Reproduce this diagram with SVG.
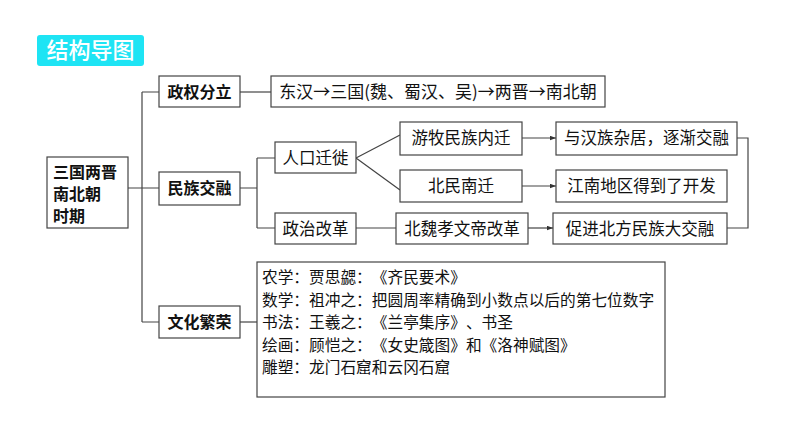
<svg xmlns="http://www.w3.org/2000/svg" width="794" height="448" viewBox="0 0 794 448">
<defs>
<marker id="ah" viewBox="0 0 8 6" refX="8" refY="3" markerWidth="6" markerHeight="5" orient="auto" markerUnits="userSpaceOnUse">
<path d="M0,0 L8,3 L0,6 z" fill="#333"/>
</marker>
<style>
text{text-spacing-trim:space-all}
.box{fill:#fff;stroke:#444;stroke-width:1.2}
.ln{fill:none;stroke:#444;stroke-width:1.2}
.hb{font-family:"Noto Sans CJK SC","Liberation Sans",sans-serif;font-weight:bold;font-size:16px;fill:#111}
.sr{font-family:"Noto Sans CJK SC","Liberation Serif",sans-serif;font-size:16.5px;fill:#111}
.ar{font-family:"Noto Sans CJK SC","Liberation Serif",sans-serif;font-size:17px;fill:#111}
.tx{font-family:"Noto Sans CJK SC","Liberation Serif",sans-serif;font-size:15.7px;fill:#111}
</style>
</defs>
<rect width="794" height="448" fill="#fff"/>
<g id="title">
<rect x="37" y="35" width="107" height="31" rx="3" fill="#1EE4F4"/>
<text x="90.5" y="58" text-anchor="middle" font-family="'Noto Sans CJK SC',sans-serif" font-size="22" font-weight="500" fill="#fff">结构导图</text>
</g>
<g id="connectors">
<path class="ln" d="M128,188 H142 M142,92 V322 M142,92 H159 M142,188 H159 M142,322 H159"/>
<path class="ln" d="M240,92 H271"/>
<path class="ln" d="M240,188 H257 M257,158 V228 M257,158 H275 M257,228 H275"/>
<path class="ln" d="M356,158 L400,135 M356,158 L400,190"/>
<path class="ln" d="M522,138 H556" marker-end="url(#ah)"/>
<path class="ln" d="M522,186 H556" marker-end="url(#ah)"/>
<path class="ln" d="M356,228 H396"/>
<path class="ln" d="M528,228 H553" marker-end="url(#ah)"/>
<path class="ln" d="M737,138 H748 V228 H727"/>
<path class="ln" d="M240,322 H257"/>
</g>
<g id="n-main">
<rect class="box" x="47" y="157" width="81" height="71"/>
<text class="hb" font-size="17" x="53" y="178">三国两晋</text>
<text class="hb" font-size="17" x="53" y="200">南北朝</text>
<text class="hb" font-size="17" x="53" y="222">时期</text>
</g>
<g id="n-zqfl">
<rect class="box" x="159" y="76" width="81" height="31"/>
<text class="hb" x="199.5" y="97.5" text-anchor="middle">政权分立</text>
</g>
<g id="n-dh">
<rect class="box" x="271" y="76" width="334" height="31"/>
<text class="ar" x="438" y="98" text-anchor="middle">东汉→三国(魏、蜀汉、吴)→两晋→南北朝</text>
</g>
<g id="n-mzjr">
<rect class="box" x="159" y="172" width="81" height="33"/>
<text class="hb" x="199.5" y="194" text-anchor="middle">民族交融</text>
</g>
<g id="n-rkqx">
<rect class="box" x="275" y="142" width="81" height="31"/>
<text class="sr" x="315.5" y="163.5" text-anchor="middle">人口迁徙</text>
</g>
<g id="n-zzgg">
<rect class="box" x="275" y="213" width="81" height="31"/>
<text class="sr" x="315.5" y="234.5" text-anchor="middle">政治改革</text>
</g>
<g id="n-ymmz">
<rect class="box" x="400" y="122" width="122" height="33"/>
<text class="sr" x="461" y="144" text-anchor="middle">游牧民族内迁</text>
</g>
<g id="n-bmnq">
<rect class="box" x="400" y="170" width="122" height="32"/>
<text class="sr" x="461" y="191.5" text-anchor="middle">北民南迁</text>
</g>
<g id="n-bwxw">
<rect class="box" x="396" y="213" width="132" height="31"/>
<text class="sr" x="462" y="234.5" text-anchor="middle">北魏孝文帝改革</text>
</g>
<g id="n-yhz">
<rect class="box" x="556" y="122" width="181" height="33"/>
<text class="sr" x="646.5" y="144" text-anchor="middle">与汉族杂居，逐渐交融</text>
</g>
<g id="n-jn">
<rect class="box" x="556" y="170" width="171" height="32"/>
<text class="sr" x="641.5" y="191.5" text-anchor="middle">江南地区得到了开发</text>
</g>
<g id="n-cj">
<rect class="box" x="553" y="213" width="174" height="31"/>
<text class="sr" x="640" y="234.5" text-anchor="middle">促进北方民族大交融</text>
</g>
<g id="n-whfr">
<rect class="box" x="159" y="306" width="81" height="32"/>
<text class="hb" x="199.5" y="327.5" text-anchor="middle">文化繁荣</text>
</g>
<g id="n-wh">
<rect class="box" x="257" y="262" width="408" height="135"/>
<text class="tx" x="262" y="283">农学：贾思勰：《齐民要术》</text>
<text class="tx" x="262" y="305.5">数学：祖冲之：把圆周率精确到小数点以后的第七位数字</text>
<text class="tx" x="262" y="328">书法：王羲之：《兰亭集序》、书圣</text>
<text class="tx" x="262" y="350.5">绘画：顾恺之：《女史箴图》和《洛神赋图》</text>
<text class="tx" x="262" y="373">雕塑：龙门石窟和云冈石窟</text>
</g>
</svg>
